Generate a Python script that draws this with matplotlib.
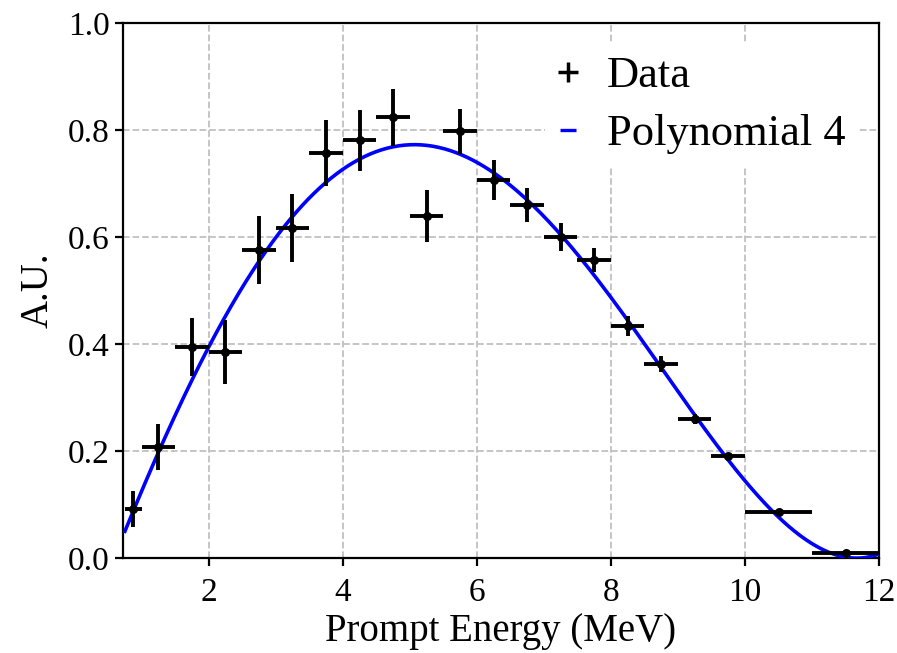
import numpy as np
import matplotlib
matplotlib.use("Agg")
import matplotlib.pyplot as plt
from matplotlib.lines import Line2D

# Data points (bin centres, half widths, values, errors)
energy = [0.875, 1.25, 1.75, 2.25, 2.75, 3.25, 3.75, 4.25, 4.75, 5.25, 5.75,
          6.25, 6.75, 7.25, 7.75, 8.25, 8.75, 9.25, 9.75, 10.5, 11.5]
energy_err = [0.125, 0.25, 0.25, 0.25, 0.25, 0.25, 0.25, 0.25, 0.25, 0.25, 0.25,
              0.25, 0.25, 0.25, 0.25, 0.25, 0.25, 0.25, 0.25, 0.5, 0.5]
counts = [0.092, 0.208, 0.394, 0.385, 0.576, 0.617, 0.757, 0.781, 0.824, 0.639, 0.798,
          0.707, 0.660, 0.600, 0.557, 0.434, 0.363, 0.260, 0.190, 0.086, 0.010]
counts_err = [0.034, 0.043, 0.054, 0.060, 0.064, 0.063, 0.061, 0.057, 0.053, 0.048, 0.042,
              0.037, 0.032, 0.026, 0.022, 0.019, 0.015, 0.010, 0.007, 0.003, 0.001]

# Points
curve_x = [0.75, 1.0, 2.0, 3.0, 4.0, 5.0, 6.0, 7.0, 8.0, 9.0, 10.0, 11.0, 12.0]
curve_y = [0.052, 0.12, 0.40, 0.60, 0.72, 0.773, 0.74, 0.64, 0.49, 0.31, 0.14, 0.03, 0.007]

plt.rcParams['font.family'] = 'Liberation Serif'

fig = plt.figure(figsize=(8.97, 6.53), dpi=100)
ax = fig.add_axes([0.137, 0.1455, 0.843, 0.8193])

coef = np.polyfit(curve_x, curve_y, 4)
xs = np.linspace(0.75, 12, 400)
ax.plot(xs, np.polyval(coef, xs), color='blue', lw=2.6, zorder=3)

ax.errorbar(energy, counts, xerr=energy_err, yerr=counts_err, fmt='o', color='black',
            ms=5.5, elinewidth=2.8, capsize=0, zorder=4)

ax.set_xlim(0.72, 12)
ax.set_ylim(0, 1.0)
ax.set_xticks([2, 4, 6, 8, 10, 12])
ax.set_yticks([0.0, 0.2, 0.4, 0.6, 0.8, 1.0])
ax.set_yticklabels(['0.0', '0.2', '0.4', '0.6', '0.8', '1.0'])
ax.tick_params(labelsize=24, width=1.6, length=6, direction='out')
ax.tick_params(axis='x', pad=8)
for s in ax.spines.values():
    s.set_linewidth(1.6)
ax.grid(True, linestyle='--', color='#c0c0c0', lw=1.3)
ax.set_axisbelow(True)

ax.set_xlabel('Prompt Energy (MeV)', fontsize=28, labelpad=4)
ax.set_ylabel('A.U.', fontsize=28, labelpad=8)

handles = [Line2D([], [], color='black', marker='+', ls='none', ms=15, mew=2.5),
           Line2D([], [], color='blue', marker='_', ls='none', ms=12, mew=2.4)]
leg = ax.legend(handles, ['Data', 'Polynomial 4'], loc='upper right', fontsize=32,
                frameon=True, framealpha=1, edgecolor='none', handlelength=0.45,
                handletextpad=0.65, borderaxespad=0.45, borderpad=0.3, labelspacing=0.4)

fig.savefig('out.png', dpi=100)
